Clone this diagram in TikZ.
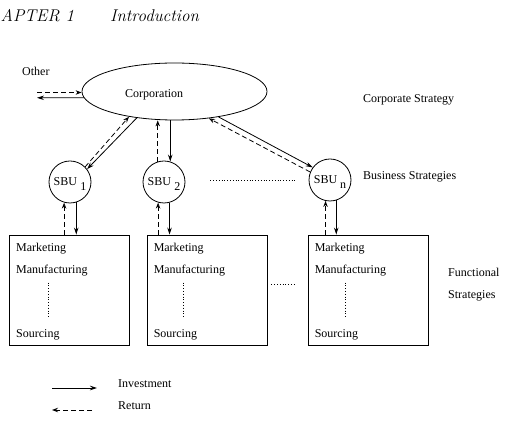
\documentclass[tikz,border=0pt]{standalone}
\usepackage{fontspec}
\newfontfamily\diagfont{Liberation Serif}
\usetikzlibrary{shapes.geometric,arrows.meta}

\begin{document}
\begin{tikzpicture}[
            x = 1pt, y = -1pt,
            every node/.style={font=\diagfont\fontsize{12}{14}\selectfont, inner sep=0pt},
            line/.style={line width = .8pt},
            lbl/.style={anchor=base west},
            unit/.style={circle, draw, line width=.8pt, minimum size=42pt, text depth=0pt},
            fbox/.style={draw, line width=.9pt, minimum width=120pt, minimum height=110pt},
            inv/.style={line, -{Stealth[length=7pt,width=4.5pt]}},
            ret/.style={line, dash pattern=on 5pt off 3pt, -{Stealth[open,length=6pt,width=4.5pt]}},
            dotline/.style={line width=.8pt, dash pattern=on .9pt off 1.9pt},
            ]
        \useasboundingbox (0,0) rectangle (507,430);

        \node[lbl, font=\rmfamily\itshape\fontsize{17}{20}\selectfont] (chap) at (0.5,22) {APTER 1};
        \node[lbl, font=\rmfamily\itshape\fontsize{17}{20}\selectfont] (intro) at (110,22) {Introduction};

        \node[ellipse, draw, line width=.8pt, minimum width=185pt, minimum height=57pt] (corp) at (174.5,91.5) {};
        \node[lbl] (corptxt) at (125,98) {Corporation};
        \node[lbl] (other) at (22,76) {Other};
        \node[lbl] (cstrat) at (363,103) {Corporate Strategy};

        \node[unit] (sbu1) at (70,182) {SBU\hspace{3.5pt}\raisebox{-5pt}{1}};
        \node[unit] (sbu2) at (164,182) {SBU\hspace{3.5pt}\raisebox{-5pt}{2}};
        \node[unit] (sbun) at (330,180) {SBU\hspace{3pt}\raisebox{-4.5pt}{n}};
        \node[lbl] (bstrat) at (363,180) {Business Strategies};

        \node[fbox] (fb1) at (69.5,290) {};
        \node[fbox] (fb2) at (207,290) {};
        \node[fbox] (fb3) at (368,290) {};
        \node[lbl] (mk1) at ([shift={(7,17)}]fb1.north west) {Marketing};
        \node[lbl] (mf1) at ([shift={(7,39)}]fb1.north west) {Manufacturing};
        \node[lbl] (sc1) at ([shift={(7,103)}]fb1.north west) {Sourcing};
        \node[lbl] (mk2) at ([shift={(7,17)}]fb2.north west) {Marketing};
        \node[lbl] (mf2) at ([shift={(7,39)}]fb2.north west) {Manufacturing};
        \node[lbl] (sc2) at ([shift={(7,103)}]fb2.north west) {Sourcing};
        \node[lbl] (mk3) at ([shift={(7,17)}]fb3.north west) {Marketing};
        \node[lbl] (mf3) at ([shift={(7,39)}]fb3.north west) {Manufacturing};
        \node[lbl] (sc3) at ([shift={(7,103)}]fb3.north west) {Sourcing};
        \node[lbl] (fstrat) at (448,277) {Functional};
        \node[lbl] (fstrat2) at (448,299) {Strategies};

        \draw[dotline] ([shift={(32,9)}]mf1.base west) -- ([shift={(32,-20)}]sc1.base west);
        \draw[dotline] ([shift={(30,9)}]mf2.base west) -- ([shift={(30,-20)}]sc2.base west);
        \draw[dotline] ([shift={(31,9)}]mf3.base west) -- ([shift={(31,-20)}]sc3.base west);
        \draw[dotline] ([shift={(25,-2)}]sbu2.east) -- ([shift={(-14,0)}]sbun.west);
        \draw[dotline] ([shift={(4,-6)}]fb2.east) -- ([shift={(-11,-6)}]fb3.west);

        \coordinate (othr) at (37,92.5);
        \coordinate (othi) at (37,97.8);
        \draw[ret] (othr) -- (othr -| corp.west);
        \draw[inv] (corp.184) -- (othi);

        \draw[inv] (corp.215) -- (sbu1.37);
        \draw[ret] (sbu1.45) -- (corp.209);
        \draw[ret] (sbu2.107) -- (sbu2.107 |- corp.south);
        \draw[inv] (sbu2.73 |- corp.south) -- (sbu2.73);
        \draw[inv] (corp.-30) -- (sbun.144);
        \draw[ret] (sbun.158) -- (corp.-38);

        \draw[ret] (sbu1.-106 |- fb1.north) -- (sbu1.-106);
        \draw[inv] (sbu1.-73) -- (sbu1.-73 |- fb1.north);
        \draw[ret] (sbu2.-106 |- fb2.north) -- (sbu2.-106);
        \draw[inv] (sbu2.-75) -- (sbu2.-75 |- fb2.north);
        \draw[ret] (sbun.-102 |- fb3.north) -- (sbun.-102);
        \draw[inv] (sbun.-73) -- (sbun.-73 |- fb3.north);

        \coordinate (lia) at (52,388);
        \coordinate (lib) at (97,388);
        \coordinate (lra) at (52,410);
        \coordinate (lrb) at (92,410);
        \draw[inv] (lia) -- (lib);
        \draw[ret] (lrb) -- (lra);
        \node[lbl] (linv) at (118,388) {Investment};
        \node[lbl] (lret) at (118,410) {Return};

    \end{tikzpicture}
\end{document}
